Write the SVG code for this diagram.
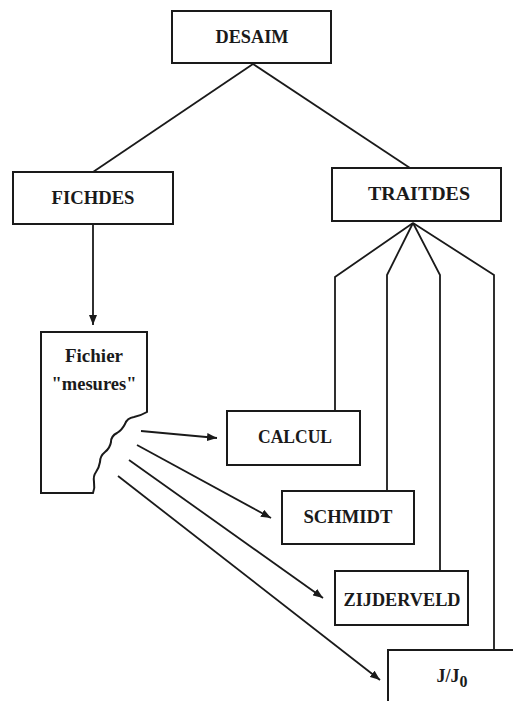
<svg xmlns="http://www.w3.org/2000/svg" width="513" height="701" viewBox="0 0 513 701">
<style>
.box{fill:#fff;stroke:#1a1a1a;stroke-width:2}
.ln{fill:none;stroke:#1a1a1a;stroke-width:1.8}
.t{font-family:"Liberation Serif","Times New Roman",serif;font-weight:bold;font-size:18px;fill:#1a1a1a;text-anchor:middle}
</style>
<defs>
<marker id="ah" viewBox="0 0 10 8" refX="10" refY="4" markerWidth="10" markerHeight="8" markerUnits="userSpaceOnUse" orient="auto">
<path d="M0,0 L10,4 L0,8 Z" fill="#1a1a1a"/>
</marker>
</defs>
<rect width="513" height="701" fill="#fff"/>
<g id="connectors">
<line class="ln" x1="253" y1="64" x2="93" y2="172"/>
<line class="ln" x1="253" y1="64" x2="410" y2="168"/>
<line class="ln" x1="93" y1="224" x2="93" y2="325" marker-end="url(#ah)"/>
<polyline class="ln" points="413,223 335,277 335,411"/>
<polyline class="ln" points="413,223 387,275 387,491"/>
<polyline class="ln" points="413,223 440,275 440,571"/>
<polyline class="ln" points="413,223 494,275 494,650"/>
<line class="ln" x1="141" y1="431" x2="217" y2="438" marker-end="url(#ah)"/>
<line class="ln" x1="137" y1="445" x2="271" y2="518" marker-end="url(#ah)"/>
<line class="ln" x1="129" y1="460" x2="323" y2="598" marker-end="url(#ah)"/>
<line class="ln" x1="118" y1="476" x2="380" y2="680" marker-end="url(#ah)"/>
</g>
<g id="desaim">
<rect class="box" x="172" y="11" width="159" height="52"/>
<text class="t" x="252" y="43" textLength="73" lengthAdjust="spacingAndGlyphs">DESAIM</text>
</g>
<g id="fichdes">
<rect class="box" x="13" y="172" width="160" height="52"/>
<text class="t" x="93" y="204" textLength="83" lengthAdjust="spacingAndGlyphs">FICHDES</text>
</g>
<g id="traitdes">
<rect class="box" x="332" y="168" width="169" height="53"/>
<text class="t" x="419" y="200" textLength="102" lengthAdjust="spacingAndGlyphs">TRAITDES</text>
</g>
<g id="fichier">
<path class="box" d="M41,332 L147,332 L147,412 Q140,416 134,417 Q127,418 125,424 Q122,430 117,433 Q111,436 111,442 Q110,448 105,452 Q100,456 100,462 Q99,468 96,472 Q93,476 94,482 Q95,488 93,493 L41,493 Z"/>
<text class="t" x="94" y="362" textLength="58" lengthAdjust="spacingAndGlyphs">Fichier</text>
<text class="t" x="94" y="390" textLength="85" lengthAdjust="spacingAndGlyphs">"mesures"</text>
</g>
<g id="calcul">
<rect class="box" x="227" y="411" width="133" height="54"/>
<text class="t" x="295" y="443" textLength="74" lengthAdjust="spacingAndGlyphs">CALCUL</text>
</g>
<g id="schmidt">
<rect class="box" x="282" y="491" width="132" height="53"/>
<text class="t" x="348" y="523" textLength="89" lengthAdjust="spacingAndGlyphs">SCHMIDT</text>
</g>
<g id="zijderveld">
<rect class="box" x="335" y="571" width="133" height="54"/>
<text class="t" x="402" y="606" textLength="117" lengthAdjust="spacingAndGlyphs">ZIJDERVELD</text>
</g>
<g id="jj0">
<path class="box" d="M388,712 L388,650 L520,650 L520,712"/>
<text class="t" x="452" y="682" font-size="19">J/J<tspan dy="5" font-size="16">0</tspan></text>
</g>
</svg>
